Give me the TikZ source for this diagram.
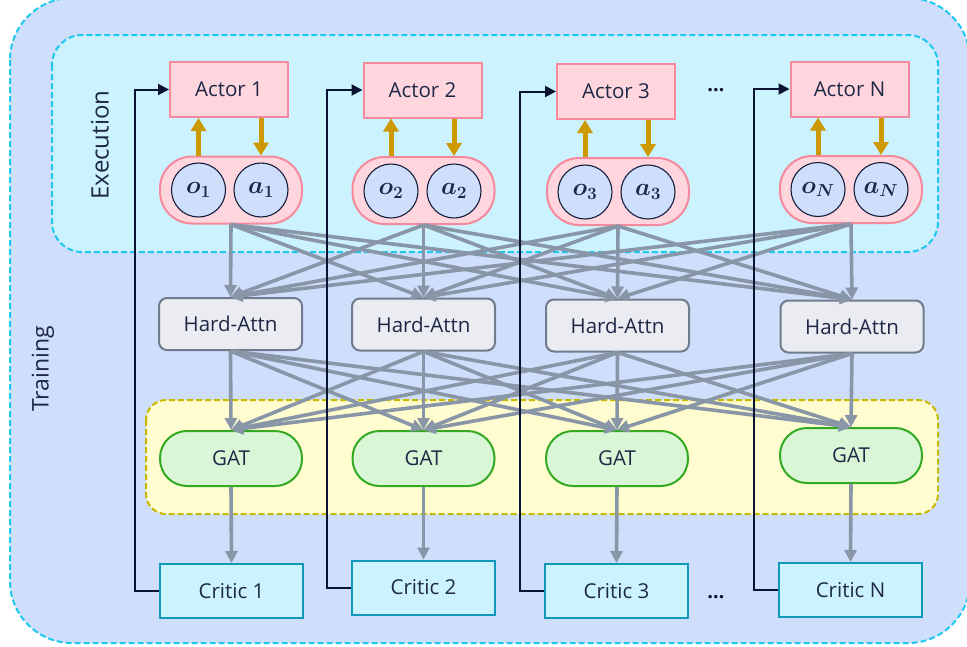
\documentclass[tikz,border=0pt]{standalone}
\usepackage{fontspec}
\setmainfont{Open Sans}
\usetikzlibrary{arrows.meta}
\definecolor{outerF}{RGB}{207,222,251}
\definecolor{outerB}{RGB}{30,200,240}
\definecolor{execF}{RGB}{204,242,253}
\definecolor{actorF}{RGB}{255,214,222}
\definecolor{actorB}{RGB}{244,138,156}
\definecolor{circF}{RGB}{207,222,251}
\definecolor{circB}{RGB}{20,30,60}
\definecolor{orng}{RGB}{204,153,0}
\definecolor{haF}{RGB}{234,236,241}
\definecolor{haB}{RGB}{112,124,140}
\definecolor{gatF}{RGB}{217,246,214}
\definecolor{gatB}{RGB}{51,170,34}
\definecolor{yelF}{RGB}{255,253,208}
\definecolor{yelB}{RGB}{200,185,0}
\definecolor{critF}{RGB}{204,242,253}
\definecolor{critB}{RGB}{17,153,187}
\definecolor{greyA}{RGB}{136,150,168}
\definecolor{darkL}{RGB}{10,20,50}
\definecolor{txt}{RGB}{30,40,70}
\tikzset{
  lbl/.style={text=txt, font=\fontsize{20.5}{24}\selectfont},
  actorbox/.style={lbl, draw=actorB, fill=actorF, line width=2pt, minimum width=118pt, minimum height=55pt, inner sep=0pt},
  pillbox/.style={draw=actorB, fill=actorF, line width=2pt, rounded corners=32pt, minimum width=142pt, minimum height=67pt, inner sep=0pt},
  circ/.style={circle, draw=circB, fill=circF, line width=1.1pt, minimum size=54pt, inner sep=0pt, text=txt, font=\fontsize{23}{28}\selectfont\boldmath},
  habox/.style={lbl, draw=haB, fill=haF, line width=2pt, rounded corners=8pt, minimum width=143pt, minimum height=52pt, inner sep=0pt},
  gatbox/.style={lbl, draw=gatB, fill=gatF, line width=2pt, rounded corners=27pt, minimum width=142pt, minimum height=55pt, inner sep=0pt},
  critbox/.style={lbl, draw=critB, fill=critF, line width=2pt, minimum width=143pt, minimum height=54pt, inner sep=0pt},
  garrow/.style={draw=greyA, line width=3.6pt, -{Triangle[length=12pt,width=12pt]}},
  oarrow/.style={draw=orng, line width=5pt, -{Triangle[length=13pt,width=15pt]}},
  fbarrow/.style={draw=darkL, line width=2pt, -{Triangle[length=11pt,width=11pt]}},
  region/.style={dash pattern=on 6pt off 3pt, line width=2pt},
  dotslbl/.style={text=darkL, font=\fontsize{20}{24}\selectfont\bfseries},
}
\begin{document}
\begin{tikzpicture}[x=1pt,y=-1pt]
\useasboundingbox (0,0) rectangle (967,646);
% regions
\draw[region, draw=outerB, fill=outerF, rounded corners=62pt] (10,-2) rectangle (970,643);
\draw[region, draw=outerB, fill=execF, rounded corners=30pt] (52,35) rectangle (938,252);
\draw[region, draw=yelB, fill=yelF, rounded corners=20pt] (146,400) rectangle (938,514);
\node[lbl, font=\fontsize{24}{28}\selectfont, rotate=90] (exec) at (100,145) {Execution};
\node[lbl, font=\fontsize{23}{28}\selectfont, rotate=90] (train) at (43,369) {Training};
% actors
\node[actorbox] (act1) at (229,89.5) {Actor 1};
\node[actorbox] (act2) at (422.5,90) {Actor 2};
\node[actorbox] (act3) at (616,91.5) {Actor 3};
\node[actorbox] (act4) at (849.5,89) {Actor N};
% pills
\node[pillbox] (p1) at (231,190) {};
\node[pillbox] (p2) at (423.5,190.5) {};
\node[pillbox] (p3) at (618,191.5) {};
\node[pillbox] (p4) at (851,189.5) {};
\node[circ] (o1) at (198.5,190) {$o_1$};
\node[circ] (a1) at (261,190) {$a_1$};
\node[circ] (o2) at (391,191) {$o_2$};
\node[circ] (a2) at (454,191) {$a_2$};
\node[circ] (o3) at (585,192) {$o_3$};
\node[circ] (a3) at (648,192) {$a_3$};
\node[circ] (o4) at (818,189.5) {$o_N$};
\node[circ] (a4) at (881,189.5) {$a_N$};
% hard attn
\node[habox] (h1) at (230.5,324) {Hard-Attn};
\node[habox] (h2) at (423.5,324.5) {Hard-Attn};
\node[habox] (h3) at (617.5,325.5) {Hard-Attn};
\node[habox] (h4) at (852,326.5) {Hard-Attn};
% GAT
\node[gatbox] (g1) at (231,458.5) {GAT};
\node[gatbox] (g2) at (423.5,458.5) {GAT};
\node[gatbox] (g3) at (617,458.5) {GAT};
\node[gatbox] (g4) at (851,455.5) {GAT};
% critics
\node[critbox] (c1) at (231.5,591) {Critic 1};
\node[critbox] (c2) at (423.5,587.5) {Critic 2};
\node[critbox] (c3) at (616.5,591) {Critic 3};
\node[critbox] (c4) at (850.5,590) {Critic N};
% dots
\node[dotslbl] (d1) at (716,90) {…};
\node[dotslbl] (d2) at (716,597) {…};
% orange arrows
\foreach \i in {1,2,3,4}{
  \draw[oarrow] (o\i.north |- p\i.north) -- (o\i.north |- act\i.south);
  \draw[oarrow] (a\i.north |- act\i.south) -- (a\i.north |- p\i.north);
}
% grey connectors
\foreach \i in {1,2,3,4}{
  \foreach \j in {1,2,3,4}{
    \draw[garrow] (p\i.south) -- (h\j.north);
    \draw[garrow] (h\i.south) -- (g\j.north);
  }
  \draw[garrow] (g\i.south) -- (c\i.north);
}
% feedback lines
\foreach \i in {1,2,3,4}{
  \draw[fbarrow] (c\i.west) -- ++(-24,0) |- (act\i.west);
}
\end{tikzpicture}
\end{document}
